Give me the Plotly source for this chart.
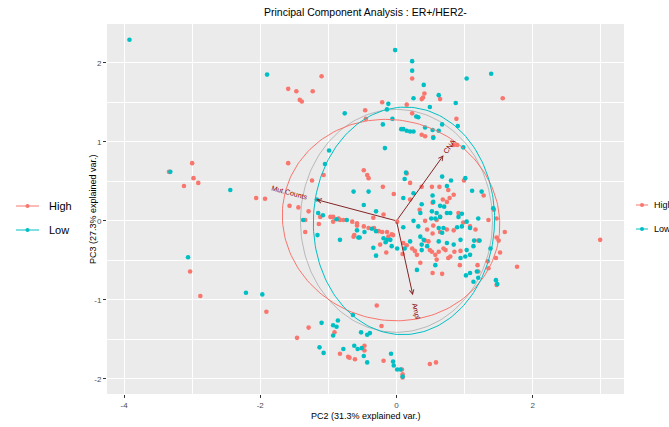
import numpy as np
import plotly.graph_objects as go

# ---------------- data ----------------
title_text = "Principal Component Analysis : ER+/HER2-"
x_title = "PC2 (31.3% explained var.)"
y_title = "PC3 (27.3% explained var.)"

groups = ["High", "Low"]
group_colors = ["#F8766D", "#00BFC4"]

# sample scores, group "High"
high_pc2 = [-3.00, -2.98, -3.12, -2.91, -3.34, -3.03, -2.88, 2.99, 1.77, -1.91,
            -1.59, -1.47, -1.42, -1.39, -1.23, -1.10, 0.23, 0.41, 0.39, 0.37,
            0.64, 1.56, -0.46, -0.21, 0.15, 0.23, -0.45, 0.37, 0.88, 0.54,
            0.42, 0.84, 0.89,
            -1.59, -0.48, -0.43, -0.41, -1.24, -0.20, -0.04, -2.06, -1.93, -1.57, -1.44,
            -1.07, -0.19, -1.29, -0.97, -0.93, -0.85, -0.65, -0.58, 0.01,
            0.15, 0.20, 0.52, 0.37, 0.99, 0.76, 0.63, 0.68, 0.74, 0.78, 0.84, 1.28, 0.20,
            0.34, 0.53, 0.64, 0.59, 0.91, 1.43, 1.47,
            1.59, 1.47, 1.50, 1.52, 1.46, 1.47, 1.35, 1.34, 1.20, 1.20, 1.19, 0.93, 0.94,
            0.85, 0.79, 0.76, 0.72, 0.69, 0.62, 0.59, 0.52, 0.53, 0.67, 0.35, 0.27, 0.23,
            0.15, 0.10, 0.42, 0.47, 0.42, 0.54, 0.98, 1.35,
            0.49, 0.58, 0.08, 0.09,
            -1.34, -1.14, -0.93, -0.83, -0.62, -0.48, -0.41, -0.33, -0.26, -0.21, -0.14,
            -0.07, -0.34, -0.15, 0.09, -0.29, -0.22, -0.91, -1.29, -1.46, -0.83, -0.71,
            -0.69, -0.61, -0.47, -0.47, -0.19, 0.09,
            0.30, 0.49, -0.24, -0.12, -0.05, -0.58, -0.63, -1.34, -1.12, -0.78,
            0.45, 0.53, 0.64, 0.74, 0.84, 1.08, 1.16, 0.57]
high_pc3 = [0.73, 0.54, 0.44, 0.48, 0.62, -0.64, -0.95, -0.24, -0.58, -1.15,
            1.67, 1.64, 1.53, 1.51, 1.64, 1.83, 1.80, 1.61, 1.56, 1.54,
            1.54, 1.55, 1.40, 1.50, 1.47, 1.36, 1.29, 1.09, 1.29, 1.06,
            1.07, 0.96, 0.96,
            0.73, 0.64, 0.58, 0.54, 0.51, 0.43, 0.34, 0.29, 0.28, 0.19, 0.17,
            0.58, 0.08, 0.12, 0.05, 0.05, 0.03, -0.01, -0.03, -0.01,
            0.60, 0.48, 0.43, 0.43, 0.51, 0.39, 0.43, 0.27, 0.24, 0.29, 0.33, 0.32, 0.27,
            0.14, 0.23, 0.05, 0.01, 0.10, 0.14, 0.03,
            -0.14, -0.21, -0.25, -0.40, -0.47, -0.81, -0.60, -0.51, -0.64, -0.25, -0.56, -0.56, -0.38,
            -0.39, -0.45, -0.47, -0.37, -0.35, -0.39, -0.49, -0.39, -0.66, -0.67, -0.53, -0.38, -0.35,
            -0.31, -0.28, -0.25, -0.26, 0.00, -0.06, -0.02, 0.01,
            -1.81, -1.79, -1.88, -1.94,
            -0.14, -0.04, -0.01, 0.01, -0.18, -0.07, -0.09, -0.09, -0.13, -0.14, -0.14,
            -0.17, 0.04, -0.40, -0.42, -1.07, -1.33, -1.41, -1.35, -1.48, -1.68, -1.72,
            -1.73, -1.75, -1.58, -1.64, -1.77, -1.98,
            -0.43, -0.37, -0.30, -0.20, -0.18, -0.06, -0.20, 0.01, 0.05, 0.01,
            -0.11, -0.16, -0.14, -0.11, -0.12, -0.07, -0.11, -0.43]

# sample scores, group "Low"
low_pc2 = [-3.92, -1.90, -0.02, 0.23, 0.23, 0.40, 0.25, 0.62, 0.87, 1.03, 1.39, -0.76,
           -0.12, -0.14, 0.49, 0.29, 0.32, -0.06, -0.20, 0.07, 0.10, 0.15, 0.20, 0.25,
           0.42, 0.53, 0.62, 0.67, 0.90, 0.54, 0.98,
           -3.32, -2.44, -3.06, -2.21, -1.97,
           -0.17, -0.99, -1.05, 0.14, 0.12, -0.63, -0.41, 0.10, -1.17, -0.48, -0.30,
           -1.37, -1.15, -1.08, -0.73,
           0.25, 0.67, 0.74, 0.80, 1.01, 1.11, 1.25, 0.53, 0.54, 0.64, 0.70, 0.37, 0.35,
           0.52, 0.59, 0.64, 0.74, 0.79, 0.91, 0.96, 1.03, 1.08,
           0.10, 0.25, 0.32, 0.35, 0.40, 0.37, 0.37, 0.45, 0.62, 0.74, 0.84, 0.94, 1.03,
           1.13, 0.94, 1.01, 1.08, 0.57, 0.30, 1.08, 1.18, 1.13, 1.20, 0.12, 0.01, -0.07,
           -0.14, -0.16, -0.19, -0.36, -0.56, -0.83, -0.30, -1.16, -0.88,
           1.46, 1.48, 1.38, 1.02, 1.22, 1.14, 0.20, 0.62, 0.69, 0.67, 0.89, 0.96, 0.51,
           0.57, 1.20, 0.09, 1.42,
           -0.58, -0.54, -0.47, -0.30, -0.09, -0.34,
           -0.64, -0.86, -0.93, -0.88, -1.10, -0.93, -0.52, -0.43, -0.39, -1.13, -1.07,
           -0.78, -0.62, -0.57, -0.51, -0.48, -0.43, -0.08, -0.05, -0.04, 0.01, 0.06]
low_pc3 = [2.29, 1.85, 2.16, 2.02, 1.90, 1.72, 1.55, 1.59, 1.49, 1.80, 1.86, 1.36,
           1.48, 1.41, 1.44, 1.32, 1.31, 1.29, 1.22, 1.16, 1.16, 1.14, 1.13, 1.13,
           1.18, 1.15, 1.14, 1.22, 1.20, 1.05, 0.93,
           0.62, 0.39, -0.46, -0.91, -0.93,
           0.92, 0.89, 0.72, 0.61, 0.53, 0.37, 0.37, 0.29, 0.27, 0.20, 0.12,
           0.01, 0.10, 0.07, 0.01,
           0.35, 0.56, 0.44, 0.51, 0.54, 0.38, 0.37, 0.32, 0.24, 0.19, 0.18, 0.21, 0.10,
           0.12, 0.10, 0.05, 0.10, 0.10, 0.05, 0.09, -0.01, -0.09,
           -0.08, 0.00, -0.07, -0.20, -0.24, -0.30, -0.37, -0.32, -0.26, -0.28, -0.30, -0.24, -0.37,
           -0.32, -0.47, -0.45, -0.43, -0.56, -0.62, -0.66, -0.64, -0.77, -0.72, -0.35, -0.35, -0.32,
           -0.24, -0.27, -0.22, -0.10, -0.21, -0.24, -0.44, -0.18, 0.02,
           -0.75, -0.80, -0.35, -0.69, -0.25, -0.25, -0.26, -0.09, -0.09, -0.15, -0.08, -0.07, 0.03,
           0.03, 0.03, -1.97, 0.16,
           -0.12, -0.21, -0.14, -0.13, -0.24, -0.34,
           -1.19, -1.26, -1.32, -1.34, -1.29, -1.45, -1.41, -1.44, -1.42, -1.60, -1.67,
           -1.62, -1.58, -1.62, -1.61, -1.71, -1.79, -1.68, -1.78, -1.83, -1.88, -1.88]

# variable loadings (arrows)
var_names = ["Mut.Counts", "CNA", "Ampl"]
load_pc2 = [-1.18, 0.69, 0.24]
load_pc3 = [0.27, 0.83, -0.94]

# normal-data ellipses per group: centre, semi-axes, rotation (deg)
ell_cx = [-0.08, 0.11]
ell_cy = [0.01, 0.00]
ell_a = [1.60, 1.33]
ell_b = [1.27, 1.44]
ell_rot = [-6.0, -5.0]

# correlation circle radius
circle_r = 1.41

x_ticks = [-4, -2, 0, 2]
x_minor = [-3, -1, 1, 3]
y_ticks = [-2, -1, 0, 1, 2]
y_minor = [-1.5, -0.5, 0.5, 1.5]
x_range = [-4.25, 3.34]
y_range = [-2.19, 2.49]

# ---------------- layout geometry ----------------
W, H = 669, 427
ML, MR, MT, MB = 107, 45, 24, 33
PW, PH = W - ML - MR, H - MT - MB
sx = PW / (x_range[1] - x_range[0])   # px per unit
sy = PH / (y_range[1] - y_range[0])


def paper_x(px):
    return (px - ML) / PW


def paper_y(py):
    return (H - MB - py) / PH


FONT = "Liberation Sans, Arial, sans-serif"
ARROW_COL = "#832424"
LABEL_COL = "#8B0000"

fig = go.Figure()

# correlation circle
t = np.linspace(0, 2 * np.pi, 200)
fig.add_trace(go.Scatter(x=circle_r * np.cos(t), y=circle_r * np.sin(t), mode="lines",
                         line=dict(color="rgba(110,110,110,0.45)", width=0.9),
                         hoverinfo="skip", showlegend=False))

# points
for name, col, xs, ys in [("High", group_colors[0], high_pc2, high_pc3),
                          ("Low", group_colors[1], low_pc2, low_pc3)]:
    fig.add_trace(go.Scatter(x=xs, y=ys, mode="markers", name=name,
                             marker=dict(color=col, size=4.6, line=dict(width=0)),
                             showlegend=False))

# ellipses
for i, col in enumerate(group_colors):
    th = np.deg2rad(ell_rot[i])
    ex = ell_cx[i] + ell_a[i] * np.cos(t) * np.cos(th) - ell_b[i] * np.sin(t) * np.sin(th)
    ey = ell_cy[i] + ell_a[i] * np.cos(t) * np.sin(th) + ell_b[i] * np.sin(t) * np.cos(th)
    fig.add_trace(go.Scatter(x=ex, y=ey, mode="lines", line=dict(color=col, width=1),
                             hoverinfo="skip", showlegend=False))

annotations = []
shapes = []

# loading arrows and labels
label_gap = [27.5, 10.5, 16.5]
for name, lx, ly, gap in zip(var_names, load_pc2, load_pc3, label_gap):
    annotations.append(dict(x=lx, y=ly, ax=0, ay=0, xref="x", yref="y", axref="x", ayref="y",
                            text="", showarrow=True, arrowhead=5, arrowsize=0.9,
                            arrowwidth=1, arrowcolor=ARROW_COL, standoff=0))
    dxp, dyp = lx * sx, ly * sy
    n = np.hypot(dxp, dyp)
    ang = -np.degrees(np.arctan(dyp / dxp))
    annotations.append(dict(x=lx, y=ly, xref="x", yref="y", text=name, showarrow=False,
                            xanchor="center", yanchor="middle",
                            xshift=dxp / n * gap, yshift=dyp / n * gap, textangle=ang,
                            font=dict(family=FONT, size=7.2, color=LABEL_COL)))

# title and axis titles
annotations.append(dict(x=0.5, y=1, xref="paper", yref="paper", text=title_text,
                        showarrow=False, xanchor="center", yanchor="bottom", yshift=4,
                        font=dict(family=FONT, size=10.5, color="black")))
annotations.append(dict(x=0.5, y=0, xref="paper", yref="paper", text=x_title,
                        showarrow=False, xanchor="center", yanchor="top", yshift=-15,
                        font=dict(family=FONT, size=9, color="black")))
annotations.append(dict(x=0, y=0.5, xref="paper", yref="paper", text=y_title,
                        showarrow=False, xanchor="center", yanchor="middle", xshift=-14,
                        textangle=-90, font=dict(family=FONT, size=9, color="black")))

# two legends (left and right)
legend_specs = [
    dict(x0=16, x1=39, tx=47, ys=[206, 230], size=11),
    dict(x0=636, x1=648, tx=652, ys=[205, 229], size=9),
]
for spec in legend_specs:
    for g, col, yy in zip(groups, group_colors, spec["ys"]):
        shapes.append(dict(type="line", xref="paper", yref="paper",
                           x0=paper_x(spec["x0"]), x1=paper_x(spec["x1"]),
                           y0=paper_y(yy), y1=paper_y(yy),
                           line=dict(color=col, width=1)))
        xm = (spec["x0"] + spec["x1"]) / 2
        shapes.append(dict(type="circle", xref="paper", yref="paper",
                           xsizemode="pixel", ysizemode="pixel",
                           xanchor=paper_x(xm), yanchor=paper_y(yy),
                           x0=-2, x1=2, y0=-2, y1=2,
                           fillcolor=col, line=dict(width=0)))
        annotations.append(dict(x=paper_x(spec["tx"]), y=paper_y(yy), xref="paper", yref="paper",
                                text=g, showarrow=False, xanchor="left", yanchor="middle",
                                font=dict(family=FONT, size=spec["size"], color="black")))

axis_common = dict(showgrid=True, gridcolor="white", gridwidth=1.1, zeroline=False,
                   ticks="outside", ticklen=3, tickwidth=1, tickcolor="#333333",
                   tickfont=dict(family=FONT, size=8, color="#4D4D4D"),
                   showline=False, fixedrange=True)

fig.update_layout(
    width=W, height=H,
    margin=dict(l=ML, r=MR, t=MT, b=MB, pad=0),
    paper_bgcolor="white", plot_bgcolor="#EBEBEB",
    showlegend=False,
    xaxis=dict(range=x_range, tickvals=x_ticks, ticktext=[str(v) for v in x_ticks],
               minor=dict(tickvals=x_minor, showgrid=True, gridcolor="white", gridwidth=0.5,
                          ticks=""),
               **axis_common),
    yaxis=dict(range=y_range, tickvals=y_ticks, ticktext=[str(v) for v in y_ticks],
               minor=dict(tickvals=y_minor, showgrid=True, gridcolor="white", gridwidth=0.5,
                          ticks=""),
               **axis_common),
    annotations=annotations,
    shapes=shapes,
)

fig.write_html("out.html")
